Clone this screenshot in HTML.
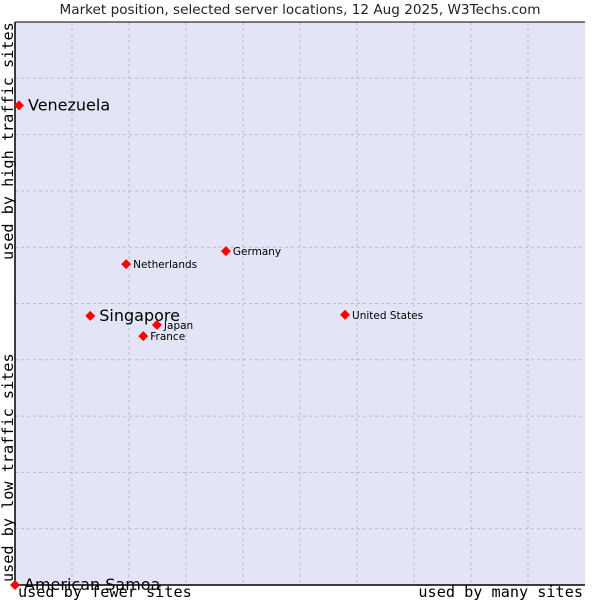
<!DOCTYPE html>
<html><head><meta charset="utf-8"><style>
body{margin:0;background:#fff;}
svg{display:block;font-family:"DejaVu Sans","Liberation Sans",sans-serif;}
</style></head><body>
<svg id="chart" width="600" height="600">
<text x="300" y="14" text-anchor="middle" font-size="13.6" fill="#222">Market position, selected server locations, 12 Aug 2025, W3Techs.com</text>
<rect x="15" y="22" width="570" height="563" fill="#e3e5f7"/>
<g id="grid"></g>
<path d="M15 22V585H585" fill="none" stroke="#000" stroke-width="1.5"/>
<line x1="15" y1="22" x2="585" y2="22" stroke="#000" stroke-width="1"/>
<g font-family="'DejaVu Sans Mono','Liberation Mono',monospace" font-size="15.2" fill="#000">
<text transform="translate(13,260) rotate(-90)">used by high traffic sites</text>
<text transform="translate(13,582) rotate(-90)">used by low traffic sites</text>
<text x="18" y="597">used by fewer sites</text>
<text x="583" y="597" text-anchor="end">used by many sites</text>
</g>
<g id="points"></g>
</svg>
<script>
const countries=["Venezuela","American Samoa","Singapore","Netherlands","Germany","Japan","France","United States"];
const usage=[0.7,0,13.2,19.5,37.0,24.9,22.5,57.9];
const traffic=[85.2,0,47.8,57.0,59.3,46.2,44.2,48.0];
const big=[true,true,true,false,false,false,false,false];
const X0=15,X1=585,Y0=585,Y1=22;
const sx=v=>X0+(X1-X0)*v/100, sy=v=>Y0-(Y0-Y1)*v/100;
const NS="http://www.w3.org/2000/svg";
const g=document.getElementById('grid');
for(let i=1;i<10;i++){
 const lv=document.createElementNS(NS,'line');
 lv.setAttribute('x1',sx(i*10));lv.setAttribute('x2',sx(i*10));lv.setAttribute('y1',Y1);lv.setAttribute('y2',Y0);
 lv.setAttribute('stroke','#bbb');lv.setAttribute('stroke-dasharray','3,3');
 
 
 g.appendChild(lv);
 const lh=document.createElementNS(NS,'line');
 lh.setAttribute('y1',sy(i*10));lh.setAttribute('y2',sy(i*10));lh.setAttribute('x1',X0);lh.setAttribute('x2',X1);
 lh.setAttribute('stroke','#bbb');lh.setAttribute('stroke-dasharray','3,3');
 
 
 g.appendChild(lh);
}
const p=document.getElementById('points');
countries.forEach((c,i)=>{
 const x=sx(usage[i]),y=sy(traffic[i]);
 const d=document.createElementNS(NS,'path');
 d.setAttribute('d',`M${x} ${y-5}L${x+5} ${y}L${x} ${y+5}L${x-5} ${y}Z`);
 d.setAttribute('fill','#f00');
 
 
 p.appendChild(d);
 const t=document.createElementNS(NS,'text');
 t.setAttribute('x',x+(big[i]?9:7));t.setAttribute('y',y+(big[i]?5:4));
 t.setAttribute('font-size',big[i]?16:10.5);
 t.setAttribute('fill','#000');
 t.textContent=c;
 
 
 p.appendChild(t);
});
</script>
</body></html>
